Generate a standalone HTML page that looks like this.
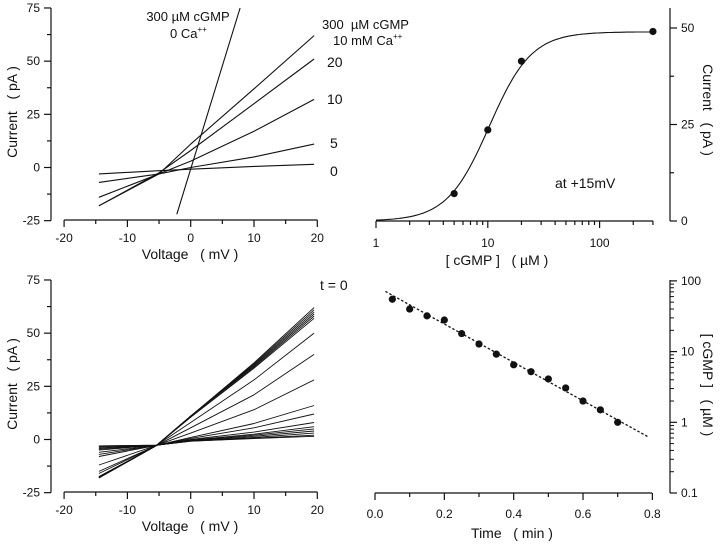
<!DOCTYPE html>
<html><head><meta charset="utf-8"><style>
html,body{margin:0;padding:0;background:#fff;}
svg{display:block;font-family:"Liberation Sans",Arial,sans-serif;}
text{fill:#111;white-space:pre;}
</style></head><body>
<svg id="s" width="720" height="544" viewBox="0 0 720 544" xmlns="http://www.w3.org/2000/svg" xml:space="preserve"></svg>
<script>
// ---- Panel A data (I-V curves at various cGMP, 10 mM Ca) ----
const ivVoltages = [-14.5, -5, 0, 10, 19.5];
const ivLabels = ["300", "20", "10", "5", "0"];
const ivCurve300 = [-18, -3, 11, 37, 62];
const ivCurve20 = [-18, -2.5, 8, 30, 51];
const ivCurve10 = [-14, -3, 3, 17, 32];
const ivCurve5 = [-7, -3, 0, 5, 11];
const ivCurve0 = [-3, -1.5, -0.8, 0.5, 1.5];
const zeroCaV = [-2.2, 7.8];
const zeroCaI = [-22, 75];
// ---- Panel B data (dose response) ----
const doseConc = [5, 10, 20, 300];
const doseCurrent = [7.1, 23.6, 41.4, 49.1];
const hillImax = 49;
const hillK = 10.3;
const hillN = 2.3;
// ---- Panel C data (I-V family during decay) ----
const decayEnds = [62, 61, 60, 59, 58, 57, 50, 40, 28, 16, 12, 8, 6, 5, 4, 3, 2, 1.5];
const decayStarts = [-18, -18, -18, -18, -17.5, -17.5, -16, -15, -12, -8, -7, -6, -5, -4.5, -4, -3.5, -3, -3];
const decayMid0 = [11, 11, 11, 11, 10.5, 10.5, 8, 5.5, 3, 1, 0.5, 0, -0.3, -0.5, -0.6, -0.7, -0.8, -0.8];
const decayMid10 = [36, 35.5, 35, 34.5, 34, 33.5, 28, 21, 14, 7.5, 5.5, 3.5, 2.5, 2, 1.5, 1, 0.6, 0.4];
// ---- Panel D data (cGMP decay vs time) ----
const decayTimes = [0.05, 0.10, 0.15, 0.20, 0.25, 0.30, 0.35, 0.40, 0.45, 0.50, 0.55, 0.60, 0.65, 0.70];
const decayConc = [55, 40, 32, 28, 18, 12.8, 9.2, 6.5, 5.2, 4.1, 3.06, 2.0, 1.5, 1.0];
const fitT = [0.03, 0.786];
const fitC = [71, 0.63];

const NS = "http://www.w3.org/2000/svg";
const svg = document.getElementById('s');
function mk(tag, attrs, parent) {
  const e = document.createElementNS(NS, tag);
  for (const k in attrs) e.setAttribute(k, attrs[k]);
  (parent || svg).appendChild(e);
  return e;
}
function txt(x, y, s, anchor, size, parent, rot) {
  const t = mk('text', {x: x, y: y, 'text-anchor': anchor || 'middle', 'font-size': size || 13}, parent);
  if (rot) t.setAttribute('transform', 'rotate(' + rot + ' ' + x + ' ' + y + ')');
  t.textContent = s;
  return t;
}
function line(x1, y1, x2, y2, p, w) {
  return mk('line', {x1: x1, y1: y1, x2: x2, y2: y2, stroke: '#111', 'stroke-width': w || 1.2}, p);
}

function ivPanel(oy, name) {
  const g = mk('g', {});
  
  
  const xs = v => 190.7 + v * 6.33;
  const ys = i => oy + 167.5 - i * 2.127;
  line(51, ys(75), 51, ys(-25), g);
  [-25, -12.5, 0, 12.5, 25, 37.5, 50, 62.5, 75].forEach(v => {
    const major = v % 25 === 0;
    line(51, ys(v), major ? 44 : 47, ys(v), g);
    if (major) txt(40, ys(v) + 4, String(v), 'end', 12, g);
  });
  const ay = oy + 220;
  line(xs(-20), ay, xs(20), ay, g);
  [-20, -15, -10, -5, 0, 5, 10, 15, 20].forEach(v => {
    line(xs(v), ay, xs(v), ay + (v % 10 === 0 ? 7 : 4), g);
    if (v % 10 === 0) txt(xs(v), ay + 22, String(v), 'middle', 12, g);
  });
  txt(190, ay + 39, 'Voltage   ( mV )', 'middle', 14, g);
  txt(17, oy + 112, 'Current   ( pA )', 'middle', 14, g, -90);
  return {g: g, xs: xs, ys: ys};
}
function poly(pts, g, name, w, dash) {
  const p = mk('polyline', {points: pts.map(q => q[0].toFixed(1) + ',' + q[1].toFixed(1)).join(' '), fill: 'none', stroke: '#111', 'stroke-width': w || 1.1, 'stroke-linejoin': 'round'}, g);
  if (dash) p.setAttribute('stroke-dasharray', dash);
  
  
  return p;
}

// Panel A
const A = ivPanel(0, 'iv-panel-calcium');
[ivCurve300, ivCurve20, ivCurve10, ivCurve5, ivCurve0].forEach((c, k) => {
  poly(ivVoltages.map((v, i) => [A.xs(v), A.ys(c[i])]), A.g, 'iv-curve-' + ivLabels[k]);
});
poly(zeroCaV.map((v, i) => [A.xs(v), A.ys(zeroCaI[i])]), A.g, 'iv-curve-zero-ca');
txt(188, 21, '300 µM cGMP', 'middle', 13, A.g);
const t0 = txt(170, 38, '0 Ca', 'start', 13, A.g);
const s0 = mk('tspan', {dy: -6, 'font-size': 8}, t0); s0.textContent = '++';
txt(322, 29, '300  µM cGMP', 'start', 13, A.g);
const t1 = txt(333, 45, '10 mM Ca', 'start', 13, A.g);
const s1 = mk('tspan', {dy: -6, 'font-size': 8}, t1); s1.textContent = '++';
[['20', 63], ['10', 100], ['5', 144], ['0', 172]].forEach(l => txt(l[0].length > 1 ? 327 : 330, l[1] + 4, l[0], 'start', 14, A.g));

// Panel C
const C = ivPanel(272, 'iv-panel-decay');
decayEnds.forEach((e, k) => {
  const pts = [[-14.5, decayStarts[k]], [-5.5, -3 + (decayStarts[k] + 18) * 0.02], [0, decayMid0[k]], [10, decayMid10[k]], [19.5, e]];
  poly(pts.map(q => [C.xs(q[0]), C.ys(q[1])]), C.g, 'decay-iv-curve', 0.9);
});
txt(320, 290, 't = 0', 'start', 14, C.g);

// Panel B
const B = mk('g', {});


const bx = c => 376 + Math.log10(c) * 111.8;
const by = i => 221 - i * 3.86;
line(376, 221, 653, 221, B);
[1, 2, 3, 4, 5, 6, 7, 8, 9, 10, 20, 30, 40, 50, 60, 70, 80, 90, 100, 200, 300].forEach(c => {
  const maj = [1, 10, 100].includes(c);
  line(bx(c), 221, bx(c), 221 + (maj ? 7 : 4), B);
  if (maj) txt(bx(c), 247, String(c), 'middle', 12, B);
});
txt(497, 265, '[ cGMP ]   ( µM )', 'middle', 14, B);
line(670, 221, 670, 8, B);
[0, 12.5, 25, 37.5, 50].forEach(v => {
  line(670, by(v), v % 25 === 0 ? 677 : 674, by(v), B);
  if (v % 25 === 0) txt(681, by(v) + 4, String(v), 'start', 12, B);
});
txt(703, 110, 'Current   ( pA )', 'middle', 14, B, 90);
const hp = [];
for (let lc = 0; lc <= Math.log10(300) + 0.001; lc += 0.02) {
  const c = Math.pow(10, lc);
  hp.push([bx(c), by(hillImax / (1 + Math.pow(hillK / c, hillN)))]);
}
poly(hp, B, 'hill-fit-curve', 1.1);
doseConc.forEach((c, i) => {
  const d = mk('circle', {cx: bx(c), cy: by(doseCurrent[i]), r: 3.6, fill: '#111'}, B);
  
  
});
txt(555, 188, 'at +15mV', 'start', 14, B);

// Panel D
const D = mk('g', {});


const dx = t => 375 + t * 346.7;
const dy = c => 493 - (Math.log10(c) + 1) * 70.7;
line(375, 493, 652, 493, D);
[0, 0.1, 0.2, 0.3, 0.4, 0.5, 0.6, 0.7, 0.8].forEach((t, i) => {
  line(dx(t), 493, dx(t), 493 + (i % 2 === 0 ? 7 : 4), D);
  if (i % 2 === 0) txt(dx(t), 518, t.toFixed(1), 'middle', 12, D);
});
txt(512, 538, 'Time   ( min )', 'middle', 14, D);
line(670, 493, 670, 280, D);
[0.1, 1, 10, 100].forEach((d, j) => {
  line(670, dy(d), 677, dy(d), D);
  txt(681, dy(d) + 4, String(d), 'start', 12, D);
  if (j < 3) for (let m = 2; m <= 9; m++) line(670, dy(d * m), 674, dy(d * m), D, 1);
});
txt(703, 385, '[ cGMP ]   ( µM )', 'middle', 14, D, 90);
poly(fitT.map((t, i) => [dx(t), dy(fitC[i])]), D, 'exponential-fit-line', 1.3, '2.5,2');
decayTimes.forEach((t, i) => {
  const d = mk('circle', {cx: dx(t), cy: dy(decayConc[i]), r: 3.6, fill: '#111'}, D);
  
  
});
</script>
</body></html>
